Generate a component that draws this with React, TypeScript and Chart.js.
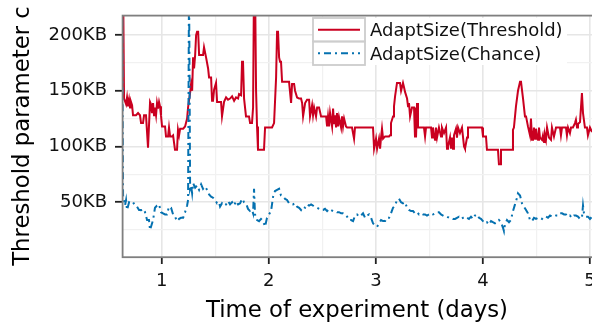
import React, { useEffect, useRef } from "react";
import { Chart, registerables } from "chart.js";

Chart.register(...registerables);

const seriesLabels = ["AdaptSize(Threshold)", "AdaptSize(Chance)"];
const xMajorTicks = [1, 2, 3, 4, 5];
const yMajorTicks = [50, 100, 150, 200];
const xTitle = "Time of experiment (days)";
const yTitle = "Threshold parameter c";

// [day, KB]
const thresholdSeries: [number, number][] = [
  [0.629, 250], [0.639, 250], [0.648, 143], [0.667, 138], [0.676, 144], [0.685, 136], [0.695, 142], [0.704, 135],
  [0.713, 140], [0.723, 137], [0.732, 128], [0.760, 128], [0.779, 130], [0.797, 128], [0.807, 121], [0.825, 121],
  [0.835, 128], [0.853, 128], [0.872, 99], [0.891, 140], [0.900, 138], [0.909, 130], [0.919, 139], [0.928, 128],
  [0.937, 135], [0.947, 128], [0.956, 139], [0.965, 134], [0.975, 140], [0.984, 136], [0.993, 128], [1.003, 118],
  [1.031, 118], [1.040, 109], [1.059, 109], [1.068, 117], [1.078, 109], [1.096, 109], [1.106, 110], [1.124, 97],
  [1.143, 97], [1.152, 115], [1.162, 110], [1.172, 116], [1.200, 116], [1.218, 118], [1.237, 125], [1.246, 135],
  [1.265, 148], [1.274, 156], [1.284, 150], [1.293, 180], [1.302, 170], [1.312, 182], [1.321, 200], [1.330, 203],
  [1.340, 203], [1.349, 182], [1.386, 182], [1.395, 189], [1.414, 180], [1.433, 170], [1.442, 162], [1.461, 162],
  [1.470, 141], [1.479, 141], [1.489, 151], [1.507, 157], [1.517, 140], [1.554, 140], [1.563, 127], [1.582, 140],
  [1.601, 144], [1.619, 142], [1.638, 143], [1.657, 145], [1.676, 141], [1.694, 144], [1.713, 143], [1.722, 147],
  [1.741, 146], [1.750, 176], [1.759, 176], [1.769, 143], [1.787, 127], [1.815, 127], [1.825, 121], [1.843, 121],
  [1.853, 135], [1.862, 250], [1.871, 250], [1.881, 150], [1.890, 118], [1.899, 97], [1.955, 97], [1.965, 117],
  [2.030, 117], [2.049, 121], [2.068, 162], [2.077, 203], [2.086, 203], [2.096, 180], [2.105, 176], [2.114, 176],
  [2.124, 158], [2.189, 158], [2.208, 139], [2.217, 156], [2.236, 156], [2.245, 150], [2.264, 144], [2.283, 143],
  [2.301, 143], [2.311, 139], [2.320, 127], [2.339, 139], [2.357, 142], [2.376, 142], [2.385, 127], [2.404, 137],
  [2.413, 128], [2.423, 135], [2.441, 127], [2.451, 135], [2.469, 135], [2.488, 127], [2.535, 127], [2.544, 118],
  [2.553, 127], [2.563, 118], [2.572, 130], [2.591, 118], [2.600, 134], [2.609, 120], [2.619, 128], [2.628, 117],
  [2.637, 130], [2.647, 118], [2.656, 126], [2.675, 117], [2.684, 127], [2.693, 118], [2.703, 125], [2.721, 118],
  [2.731, 117], [2.777, 117], [2.796, 107], [2.805, 117], [2.973, 117], [2.983, 98], [3.001, 107], [3.011, 98],
  [3.029, 107], [3.039, 98], [3.048, 108], [3.057, 116], [3.067, 107], [3.086, 109], [3.123, 109], [3.132, 110],
  [3.141, 121], [3.160, 127], [3.169, 136], [3.179, 145], [3.197, 157], [3.225, 157], [3.235, 150], [3.253, 157],
  [3.263, 153], [3.272, 149], [3.291, 143], [3.300, 136], [3.309, 139], [3.319, 127], [3.337, 135], [3.356, 135],
  [3.365, 109], [3.375, 109], [3.384, 139], [3.393, 117], [3.449, 117], [3.459, 109], [3.468, 117], [3.515, 117],
  [3.524, 108], [3.533, 117], [3.552, 106], [3.561, 117], [3.571, 108], [3.589, 117], [3.608, 109], [3.617, 117],
  [3.636, 112], [3.655, 117], [3.664, 98], [3.673, 100], [3.692, 108], [3.701, 98], [3.711, 108], [3.720, 98],
  [3.729, 110], [3.748, 116], [3.757, 108], [3.767, 117], [3.785, 112], [3.804, 117], [3.823, 100], [3.832, 98],
  [3.851, 108], [3.860, 117], [3.991, 117], [4.000, 109], [4.028, 109], [4.037, 97], [4.140, 97], [4.149, 84],
  [4.159, 84], [4.168, 97], [4.271, 97], [4.280, 115], [4.289, 117], [4.308, 136], [4.327, 150], [4.346, 158],
  [4.355, 158], [4.374, 143], [4.392, 127], [4.402, 127], [4.420, 118], [4.439, 110], [4.448, 125], [4.458, 106],
  [4.467, 107], [4.476, 117], [4.486, 107], [4.495, 116], [4.514, 106], [4.523, 117], [4.532, 108], [4.551, 106],
  [4.560, 110], [4.570, 104], [4.579, 110], [4.588, 106], [4.598, 117], [4.616, 108], [4.635, 106], [4.644, 117],
  [4.663, 109], [4.682, 117], [4.719, 117], [4.728, 110], [4.738, 117], [4.775, 117], [4.784, 110], [4.794, 117],
  [4.812, 112], [4.822, 117], [4.840, 117], [4.859, 121], [4.868, 124], [4.878, 117], [4.887, 120], [4.906, 122],
  [4.924, 148], [4.934, 130], [4.952, 117], [4.971, 117], [4.980, 110], [4.999, 117], [5.018, 113], [5.037, 113],
];

// [day, KB]
const chanceSeries: [number, number][] = [
  [0.629, 250], [0.639, 56], [0.657, 47], [0.667, 52], [0.676, 43], [0.695, 50], [0.713, 49], [0.732, 50],
  [0.751, 47], [0.769, 46], [0.788, 43], [0.807, 43], [0.825, 40], [0.844, 41], [0.863, 34], [0.881, 34],
  [0.891, 25], [0.900, 28], [0.919, 34], [0.937, 45], [0.956, 47], [0.975, 48], [0.993, 41], [1.012, 40],
  [1.031, 39], [1.049, 39], [1.068, 46], [1.087, 45], [1.106, 39], [1.124, 37], [1.143, 33], [1.162, 35],
  [1.180, 36], [1.200, 36], [1.218, 41], [1.237, 47], [1.246, 52], [1.255, 250], [1.265, 62], [1.274, 65],
  [1.284, 58], [1.293, 67], [1.312, 63], [1.330, 65], [1.349, 61], [1.368, 66], [1.386, 62], [1.405, 64],
  [1.424, 61], [1.442, 57], [1.461, 55], [1.479, 54], [1.498, 52], [1.517, 49], [1.535, 50], [1.545, 46],
  [1.563, 49], [1.582, 47], [1.601, 48], [1.619, 51], [1.638, 48], [1.657, 50], [1.676, 47], [1.694, 51],
  [1.713, 48], [1.732, 49], [1.750, 53], [1.769, 50], [1.787, 49], [1.806, 44], [1.825, 42], [1.843, 43],
  [1.853, 40], [1.862, 62], [1.871, 39], [1.890, 34], [1.909, 33], [1.927, 35], [1.946, 33], [1.965, 28],
  [1.983, 36], [2.002, 39], [2.021, 42], [2.040, 55], [2.058, 60], [2.077, 61], [2.096, 62], [2.114, 56],
  [2.133, 55], [2.152, 53], [2.170, 52], [2.189, 49], [2.208, 48], [2.226, 48], [2.245, 49], [2.264, 46],
  [2.283, 45], [2.301, 43], [2.320, 46], [2.339, 45], [2.357, 48], [2.376, 47], [2.395, 48], [2.413, 47],
  [2.432, 46], [2.451, 45], [2.469, 44], [2.488, 43], [2.507, 43], [2.525, 44], [2.544, 42], [2.563, 44],
  [2.581, 43], [2.600, 42], [2.619, 42], [2.637, 41], [2.656, 41], [2.675, 40], [2.693, 40], [2.712, 39],
  [2.731, 37], [2.749, 34], [2.768, 34], [2.787, 33], [2.805, 38], [2.824, 39], [2.843, 37], [2.861, 38],
  [2.880, 40], [2.899, 36], [2.917, 38], [2.936, 39], [2.955, 36], [2.973, 31], [2.992, 29], [3.011, 28],
  [3.029, 31], [3.048, 34], [3.067, 33], [3.086, 33], [3.104, 36], [3.123, 36], [3.141, 40], [3.160, 45],
  [3.179, 47], [3.197, 52], [3.216, 53], [3.235, 50], [3.253, 49], [3.272, 50], [3.291, 45], [3.309, 43],
  [3.328, 42], [3.347, 42], [3.365, 40], [3.384, 41], [3.403, 39], [3.421, 40], [3.440, 39], [3.459, 39],
  [3.477, 38], [3.496, 39], [3.515, 40], [3.533, 39], [3.552, 40], [3.571, 41], [3.589, 41], [3.608, 39],
  [3.627, 38], [3.645, 37], [3.664, 37], [3.683, 36], [3.701, 36], [3.720, 35], [3.739, 35], [3.757, 36],
  [3.776, 37], [3.795, 35], [3.813, 36], [3.832, 37], [3.851, 36], [3.869, 35], [3.888, 37], [3.907, 35],
  [3.925, 38], [3.944, 39], [3.963, 36], [3.981, 35], [4.000, 33], [4.019, 31], [4.037, 32], [4.056, 30],
  [4.075, 33], [4.093, 32], [4.112, 31], [4.131, 32], [4.149, 34], [4.168, 32], [4.187, 27], [4.196, 24],
  [4.205, 30], [4.224, 34], [4.243, 32], [4.261, 34], [4.280, 42], [4.299, 48], [4.318, 54], [4.327, 58],
  [4.346, 56], [4.364, 49], [4.383, 46], [4.402, 43], [4.420, 40], [4.439, 34], [4.458, 33], [4.476, 36],
  [4.495, 35], [4.514, 36], [4.532, 36], [4.551, 35], [4.570, 37], [4.588, 37], [4.607, 36], [4.626, 38],
  [4.644, 37], [4.663, 37], [4.682, 38], [4.701, 38], [4.719, 40], [4.738, 40], [4.757, 39], [4.775, 39],
  [4.794, 37], [4.812, 38], [4.831, 36], [4.850, 38], [4.868, 38], [4.887, 37], [4.906, 35], [4.924, 36],
  [4.934, 47], [4.943, 40], [4.962, 37], [4.980, 37], [4.999, 35], [5.018, 37],
];

const X_MIN = 0.629;
const X_MAX = 5.018;
const Y_MIN = 0.8;
const Y_MAX = 218;

const RED = "#CA0020";
const BLUE = "#0571B0";
const FONT = "'DejaVu Sans', 'Liberation Sans', sans-serif";

const isMajorX = (v: number) => xMajorTicks.some((t) => Math.abs(t - v) < 1e-6);
const isMajorY = (v: number) => yMajorTicks.some((t) => Math.abs(t - v) < 1e-6);

const zeroPad = (s: any) => {
  s.paddingLeft = 0;
  s.paddingRight = 0;
  s.paddingTop = 0;
  s.paddingBottom = 0;
};

const framePlugin = {
  id: "frameAndLegend",
  afterDatasetsDraw(chart: any) {
    const { ctx, chartArea: a } = chart;
    ctx.save();
    ctx.strokeStyle = "#7f7f7f";
    ctx.lineWidth = 1.8;
    ctx.strokeRect(a.left + 0.6, a.top + 0.6, a.right - a.left + 4, a.bottom - a.top - 0.4);

    // legend
    const lx = 313;
    const ly = 18;
    const kw = 52;
    const kh = 23.5;
    ctx.fillStyle = "#ffffff";
    ctx.fillRect(lx, ly, 254, kh * 2);
    const ds = chart.data.datasets;
    ds.forEach((d: any, i: number) => {
      const top = ly + i * kh;
      ctx.strokeStyle = "#cdcdcd";
      ctx.lineWidth = 1.8;
      ctx.setLineDash([]);
      ctx.strokeRect(lx, top, kw, kh);
      ctx.strokeStyle = d.borderColor;
      ctx.lineWidth = d.borderWidth;
      ctx.setLineDash(d.borderDash || []);
      ctx.beginPath();
      ctx.moveTo(lx + 5, top + kh / 2);
      ctx.lineTo(lx + kw - 5, top + kh / 2);
      ctx.stroke();
      ctx.setLineDash([]);
      ctx.fillStyle = "#111111";
      ctx.font = `18px ${FONT}`;
      ctx.textBaseline = "alphabetic";
      ctx.textAlign = "left";
      ctx.fillText(d.label, lx + kw + 5, top + kh / 2 + 6.5);
    });
    ctx.restore();
  },
};

export default function App() {
  const ref = useRef<HTMLCanvasElement>(null);

  useEffect(() => {
    const canvas = ref.current;
    if (!canvas) return;
    const chart = new Chart(canvas, {
      type: "line",
      data: {
        datasets: [
          {
            label: seriesLabels[0],
            data: thresholdSeries.map(([x, y]) => ({ x, y })),
            borderColor: RED,
            backgroundColor: RED,
            borderWidth: 2,
            pointRadius: 0,
            tension: 0,
            clip: 0,
            order: 1,
          },
          {
            label: seriesLabels[1],
            data: chanceSeries.map(([x, y]) => ({ x, y })),
            borderColor: BLUE,
            backgroundColor: BLUE,
            borderWidth: 2,
            borderDash: [2, 4, 7, 4],
            pointRadius: 0,
            tension: 0,
            clip: 0,
            order: 0,
          },
        ],
      },
      options: {
        responsive: false,
        animation: false,
        devicePixelRatio: 1,
        layout: { padding: { top: 15, right: 0, bottom: 0, left: 0 }, autoPadding: false },
        plugins: { legend: { display: false }, tooltip: { enabled: false } },
        scales: {
          x: {
            type: "linear",
            min: X_MIN,
            max: X_MAX,
            afterFit: (s: any) => {
              s.height = 74;
              zeroPad(s);
            },
            border: { display: false },
            grid: {
              color: (c: any) => (c.tick && isMajorX(c.tick.value) ? "#e6e6e6" : "#f1f1f1"),
              lineWidth: (c: any) => (c.tick && isMajorX(c.tick.value) ? 1.6 : 1.2),
              drawTicks: true,
              tickLength: 7,
              tickWidth: 1.8,
              tickColor: (c: any) => (c.tick && isMajorX(c.tick.value) ? "#222222" : "rgba(0,0,0,0)"),
            },
            ticks: {
              stepSize: 0.5,
              includeBounds: false,
              autoSkip: false,
              maxRotation: 0,
              padding: 7,
              color: "#111111",
              font: { family: FONT, size: 18 },
              callback: (v: any) => (isMajorX(Number(v)) ? String(Math.round(Number(v))) : ""),
            },
            title: {
              display: true,
              text: xTitle,
              color: "#000000",
              font: { family: FONT, size: 22.8 },
              padding: { top: 0, bottom: 6 },
            },
          },
          y: {
            type: "linear",
            min: Y_MIN,
            max: Y_MAX,
            afterFit: (s: any) => {
              s.width = 122;
              zeroPad(s);
            },
            border: { display: false },
            grid: {
              color: (c: any) => (c.tick && isMajorY(c.tick.value) ? "#e6e6e6" : "#f1f1f1"),
              lineWidth: (c: any) => (c.tick && isMajorY(c.tick.value) ? 1.6 : 1.2),
              drawTicks: true,
              tickLength: 7,
              tickWidth: 1.8,
              tickColor: (c: any) => (c.tick && isMajorY(c.tick.value) ? "#222222" : "rgba(0,0,0,0)"),
            },
            ticks: {
              stepSize: 25,
              includeBounds: false,
              autoSkip: false,
              padding: 8,
              color: "#111111",
              font: { family: FONT, size: 18 },
              callback: (v: any) => (isMajorY(Number(v)) ? `${Math.round(Number(v))}KB` : ""),
            },
            title: {
              display: true,
              text: yTitle,
              color: "#000000",
              font: { family: FONT, size: 22.8 },
              padding: { top: 9, bottom: 0 },
            },
          },
        },
      },
      plugins: [framePlugin],
    } as any);
    return () => chart.destroy();
  }, []);

  return (
    <div style={{ position: "fixed", left: 0, top: 0, width: 592, height: 331, background: "#ffffff", overflow: "hidden" }}>
      <canvas ref={ref} width={592} height={331} style={{ display: "block", width: "592px", height: "331px" }} />
    </div>
  );
}
